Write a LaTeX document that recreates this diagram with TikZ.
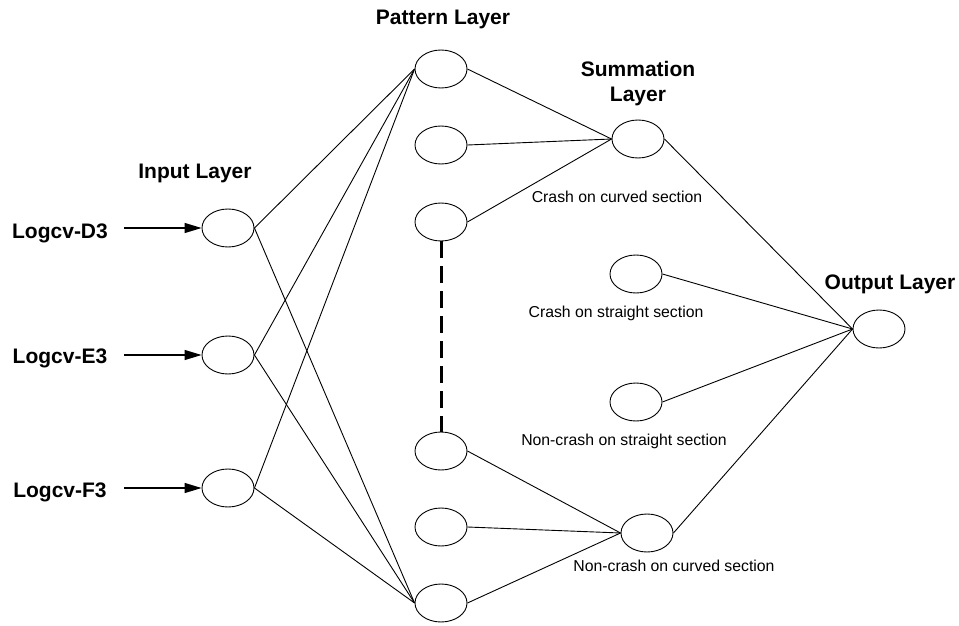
\documentclass[tikz,border=0pt]{standalone}
\usepackage{fontspec}
\setmainfont{Liberation Sans}
\usetikzlibrary{shapes.geometric,arrows.meta}
\begin{document}
\begin{tikzpicture}[x=1pt,y=-1pt,
  neuron/.style={draw, ellipse, line width=0.9pt, minimum width=52pt, minimum height=38pt, inner sep=0pt},
  conn/.style={line width=0.9pt},
  inarrow/.style={line width=1.3pt, -{Triangle[length=17pt,width=10pt]}},
  layerlabel/.style={anchor=base, inner sep=0pt, font=\fontsize{21}{25}\selectfont\bfseries},
  classlabel/.style={anchor=base, inner sep=0pt, font=\fontsize{15.8}{19}\selectfont},
  dashlink/.style={line width=3pt, dash pattern=on 17pt off 8pt}]
\useasboundingbox (0,0) rectangle (959,626);

% input layer
\node[neuron] (i1) at (228,228) {};
\node[neuron] (i2) at (228,355) {};
\node[neuron] (i3) at (228,488) {};
% pattern layer
\node[neuron] (p1) at (441,69) {};
\node[neuron] (p2) at (441,145) {};
\node[neuron] (p3) at (441,222) {};
\node[neuron] (p4) at (441,451) {};
\node[neuron] (p5) at (441,527) {};
\node[neuron] (p6) at (441,603) {};
% summation layer
\node[neuron] (s1) at (638,139) {};
\node[neuron] (s2) at (636,274) {};
\node[neuron] (s3) at (636,402) {};
\node[neuron] (s4) at (647,533) {};
% output
\node[neuron] (o) at (879,329) {};

% input labels
\node[layerlabel] (l1) at (60,238) {Logcv-D3};
\node[layerlabel] (l2) at (60,363) {Logcv-E3};
\node[layerlabel] (l3) at (60,497) {Logcv-F3};
\coordinate (a1) at (124,228);
\coordinate (a2) at (124,355);
\coordinate (a3) at (124,488);
\draw[inarrow] (a1) -- (i1.west);
\draw[inarrow] (a2) -- (i2.west);
\draw[inarrow] (a3) -- (i3.west);

% layer titles
\node[layerlabel] (tin) at (195,178) {Input Layer};
\node[layerlabel] (tpat) at (443,25) {Pattern Layer};
\node[layerlabel] (tsum1) at (638,77) {Summation};
\node[layerlabel] (tsum2) at (638,102) {Layer};
\node[layerlabel] (tout) at (890,289) {Output Layer};

% class labels
\node[classlabel] (c1) at (617,202) {Crash on curved section};
\node[classlabel] (c2) at (616,317) {Crash on straight section};
\node[classlabel] (c3) at (624,445) {Non-crash on straight section};
\node[classlabel] (c4) at (674,571) {Non-crash on curved section};

% input -> pattern
\foreach \i in {i1,i2,i3} {
  \draw[conn] (\i.east) -- (p1.west);
  \draw[conn] (\i.east) -- (p6.west);
}
% pattern -> summation
\foreach \p in {p1,p2,p3} \draw[conn] (\p.east) -- (s1.west);
\foreach \p in {p4,p5,p6} \draw[conn] (\p.east) -- (s4.west);
% summation -> output
\foreach \s in {s1,s2,s3,s4} \draw[conn] (\s.east) -- (o.west);

% dashed continuation
\draw[dashlink] (p3.south) -- (p4.north);
\end{tikzpicture}
\end{document}
